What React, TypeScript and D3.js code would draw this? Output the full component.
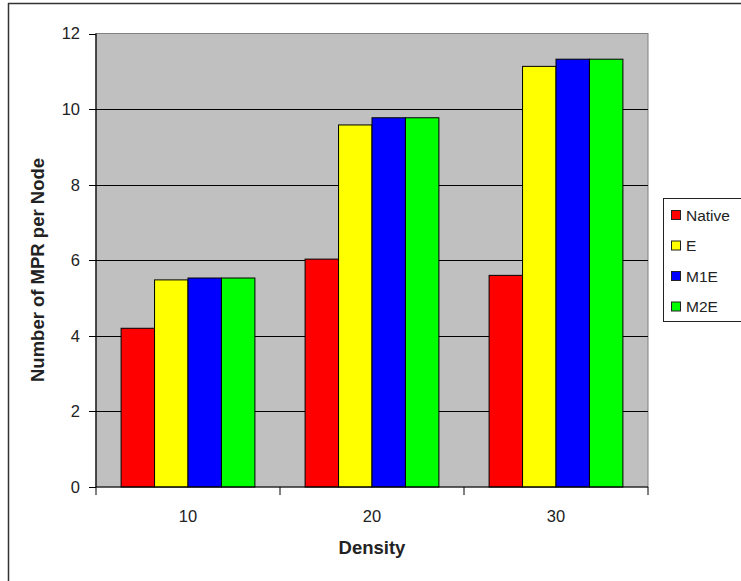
import React from "react";
import * as d3 from "d3";

const categories = ["10", "20", "30"];
const seriesNames = ["Native", "E", "M1E", "M2E"];
const seriesColors = ["#FF0000", "#FFFF00", "#0000FF", "#00FF00"];
const nativeValues = [4.2, 6.03, 5.6];
const eValues = [5.48, 9.58, 11.13];
const m1eValues = [5.53, 9.77, 11.32];
const m2eValues = [5.53, 9.77, 11.32];
const yTicks = [0, 2, 4, 6, 8, 10, 12];

const seriesValues = [nativeValues, eValues, m1eValues, m2eValues];

export default function App() {
  const W = 741, H = 581;
  const left = 96, right = 648, top = 33.5, bottom = 487;
  const x0 = d3.scaleBand<string>().domain(categories).range([left, right]).padding(0);
  const x1 = d3.scaleBand<string>().domain(seriesNames).range([0, x0.bandwidth()]).paddingInner(0).paddingOuter(0.75);
  const y = d3.scaleLinear().domain([0, 12]).range([bottom, top]);
  const font = "'Liberation Sans', Arial, sans-serif";

  return (
    <svg width={W} height={H} style={{ position: "absolute", left: 0, top: 0, background: "#fff" }} fontFamily={font}>
      <rect x={0} y={0} width={W} height={H} fill="#fff" />
      {/* outer border */}
      <line x1={8} y1={3.5} x2={W} y2={3.5} stroke="#333" strokeWidth={1.5} />
      <line x1={8.5} y1={3} x2={8.5} y2={H} stroke="#333" strokeWidth={1.5} />
      {/* plot area */}
      <rect x={left} y={top} width={right - left} height={bottom - top} fill="#C0C0C0" stroke="#808080" strokeWidth={1} />
      {yTicks.filter(t => t > 0 && t < 12).map(t => (
        <line key={t} x1={left} x2={right} y1={Math.round(y(t)) + 0.5} y2={Math.round(y(t)) + 0.5} stroke="#000" strokeWidth={1} />
      ))}
      {/* bars */}
      {categories.map((c, ci) => (
        <g key={c} transform={`translate(${x0(c)},0)`}>
          {seriesNames.map((s, si) => (
            <rect key={s} x={x1(s)!} y={y(seriesValues[si][ci])} width={x1.bandwidth()}
              height={bottom - y(seriesValues[si][ci])} fill={seriesColors[si]} stroke="#000" strokeWidth={1} />
          ))}
        </g>
      ))}
      {/* axes */}
      <line x1={left} x2={left} y1={top} y2={bottom} stroke="#000" strokeWidth={1.2} />
      <line x1={left} x2={right} y1={bottom} y2={bottom} stroke="#000" strokeWidth={1.2} />
      {yTicks.map(t => (
        <g key={t}>
          <line x1={left - 7} x2={left} y1={Math.round(y(t)) + 0.5} y2={Math.round(y(t)) + 0.5} stroke="#000" />
          <text x={80} y={y(t)} dy="0.36em" textAnchor="end" fontSize={16.5} fill="#222">{t}</text>
        </g>
      ))}
      {[...categories.map(c => x0(c)!), right].map((xv, i) => (
        <line key={i} x1={xv} x2={xv} y1={bottom} y2={bottom + 8} stroke="#000" />
      ))}
      {categories.map(c => (
        <text key={c} x={x0(c)! + x0.bandwidth() / 2} y={522} textAnchor="middle" fontSize={16.5} fill="#222">{c}</text>
      ))}
      <text x={(left + right) / 2} y={554} textAnchor="middle" fontSize={18.5} fontWeight="bold" fill="#222">Density</text>
      <text transform={`translate(44,270) rotate(-90)`} textAnchor="middle" fontSize={18.5} fontWeight="bold" fill="#222">Number of MPR per Node</text>
      {/* legend */}
      <rect x={663.5} y={198.5} width={80} height={123} fill="#fff" stroke="#222" strokeWidth={1} />
      {seriesNames.map((s, i) => {
        const cy = 215 + i * 30.5;
        return (
          <g key={s}>
            <rect x={671.5} y={cy - 4.5} width={9} height={9} fill={seriesColors[i]} stroke="#222" strokeWidth={1} />
            <text x={686} y={cy} dy="0.36em" fontSize={15.5} fill="#222">{s}</text>
          </g>
        );
      })}
    </svg>
  );
}
